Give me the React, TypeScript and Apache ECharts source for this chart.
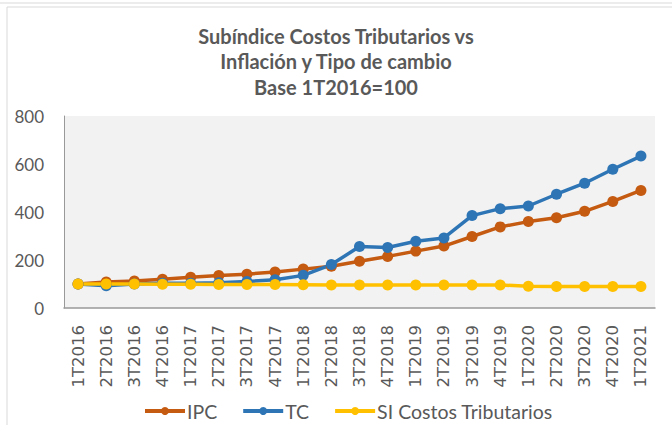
import React, { useEffect, useRef } from "react";
import * as echarts from "echarts";

const categories = [
  "1T2016", "2T2016", "3T2016", "4T2016",
  "1T2017", "2T2017", "3T2017", "4T2017",
  "1T2018", "2T2018", "3T2018", "4T2018",
  "1T2019", "2T2019", "3T2019", "4T2019",
  "1T2020", "2T2020", "3T2020", "4T2020",
  "1T2021",
];
const ipc = [100, 108, 112, 120, 128, 135, 141, 150, 162, 174, 195, 215, 237, 258, 298, 338, 360, 376, 403, 444, 490];
const tc = [100, 93, 100, 103, 103, 105, 110, 118, 136, 181, 256, 252, 278, 292, 385, 414, 425, 474, 520, 578, 633];
const si = [100, 100, 100, 99, 99, 98, 98, 98, 97, 96, 96, 96, 96, 96, 96, 96, 91, 90, 90, 90, 90];
const yTicks = [0, 200, 400, 600, 800];

const COLORS = { ipc: "#C55A11", tc: "#2E75B6", si: "#FFC000" };

export default function App() {
  const ref = useRef<HTMLDivElement>(null);
  useEffect(() => {
    if (!ref.current) return;
    const chart = echarts.init(ref.current, null, { renderer: "svg" });
    const mk = (name: string, data: number[], color: string) => ({
      name,
      type: "line",
      data,
      symbol: "circle",
      symbolSize: 11,
      lineStyle: { width: 3.5, color },
      itemStyle: { color },
    });
    chart.setOption({
      animation: false,
      backgroundColor: "#fff",
      title: {
        text: "Subíndice Costos Tributarios vs\nInflación y Tipo de cambio\nBase 1T2016=100",
        left: "center",
        top: 18,
        textStyle: {
          fontFamily: "Lato",
          fontWeight: "bold",
          fontSize: 20,
          lineHeight: 25.5,
          color: "#595959",
        },
      },
      graphic: [
        { type: "line", shape: { x1: 0, y1: 3, x2: 672, y2: 3 }, style: { stroke: "#d9d9d9", lineWidth: 1 } },
        { type: "line", shape: { x1: 7, y1: 7, x2: 672, y2: 7 }, style: { stroke: "#d9d9d9", lineWidth: 1 } },
        { type: "line", shape: { x1: 7, y1: 7, x2: 7, y2: 425 }, style: { stroke: "#d9d9d9", lineWidth: 1 } },
      ],
      legend: {
        top: 396,
        left: 138,
        itemWidth: 40,
        itemHeight: 10,
        itemGap: 24,
        lineStyle: { width: 4 },
        textStyle: { fontFamily: "Lato", fontSize: 19.5, color: "#595959", padding: [0, 0, 0, -3] },
        data: ["IPC", "TC", "SI Costos Tributarios"],
      },
      grid: {
        left: 64,
        right: 17,
        top: 116,
        bottom: 117,
        show: true,
        backgroundColor: "#F2F2F2",
        borderWidth: 0,
      },
      xAxis: {
        type: "category",
        data: categories,
        boundaryGap: true,
        axisLine: { lineStyle: { color: "#999999", width: 1.5 } },
        axisTick: { show: false },
        axisLabel: {
          rotate: 90,
          interval: 0,
          margin: 17,
          fontFamily: "DejaVu Sans",
          fontSize: 16.5,
          color: "#595959",
        },
      },
      yAxis: {
        type: "value",
        min: yTicks[0],
        max: yTicks[yTicks.length - 1],
        interval: 200,
        axisLine: { show: true, lineStyle: { color: "#999999", width: 1 } },
        axisTick: { show: false },
        splitLine: { show: false },
        axisLabel: {
          margin: 20,
          fontFamily: "Lato",
          fontSize: 17,
          color: "#595959",
        },
      },
      series: [
        mk("IPC", ipc, COLORS.ipc),
        mk("TC", tc, COLORS.tc),
        mk("SI Costos Tributarios", si, COLORS.si),
      ],
    });
    return () => chart.dispose();
  }, []);
  return (
    <div
      ref={ref}
      style={{ position: "fixed", left: 0, top: 0, width: 672, height: 425 }}
    />
  );
}
